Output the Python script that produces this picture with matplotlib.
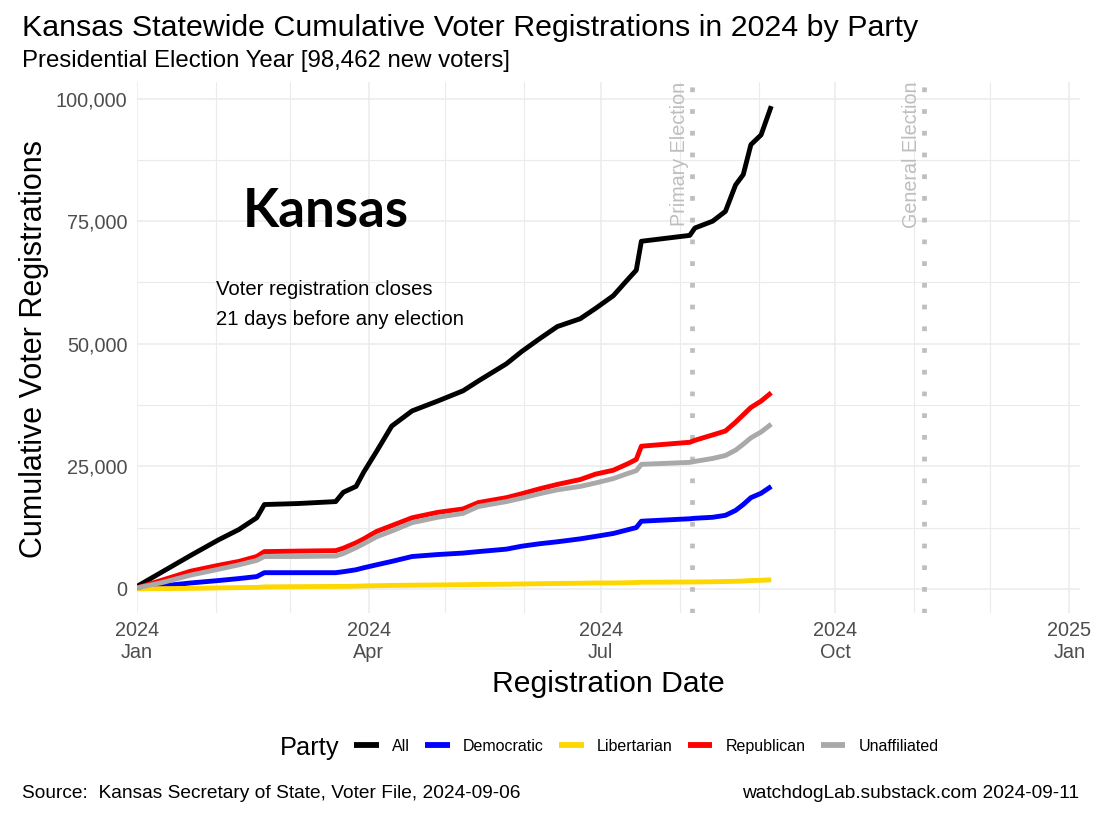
import numpy as np
import matplotlib
matplotlib.use("Agg")
import matplotlib.pyplot as plt
import matplotlib.dates as mdates
from matplotlib.lines import Line2D
from matplotlib.ticker import FuncFormatter
from matplotlib.transforms import blended_transform_factory

# ---------------- data ----------------
dates = [
    "2024-01-01", "2024-01-11", "2024-01-22", "2024-02-02", "2024-02-10",
    "2024-02-17", "2024-02-20", "2024-03-04", "2024-03-19", "2024-03-22",
    "2024-03-27", "2024-03-30", "2024-04-04", "2024-04-10", "2024-04-18",
    "2024-04-28", "2024-05-08", "2024-05-14", "2024-05-25", "2024-05-31",
    "2024-06-07", "2024-06-14", "2024-06-23", "2024-06-29", "2024-07-06",
    "2024-07-12", "2024-07-15", "2024-07-17", "2024-08-05", "2024-08-07",
    "2024-08-14", "2024-08-19", "2024-08-23", "2024-08-26", "2024-08-29",
    "2024-09-02", "2024-09-06",
]

all_reg = [
    500, 3500, 6800, 10000, 12100, 14500, 17200, 17400, 17800, 19700,
    20900, 23800, 28000, 33200, 36300, 38300, 40400, 42400, 45900, 48400,
    51000, 53500, 55100, 57200, 59800, 63300, 65000, 70900, 72100, 73600,
    75000, 77000, 82400, 84500, 90600, 92600, 98462,
]
republican = [
    200, 1800, 3600, 4800, 5600, 6600, 7600, 7700, 7800, 8300,
    9400, 10200, 11700, 12900, 14500, 15600, 16300, 17600, 18600, 19400,
    20400, 21300, 22300, 23400, 24200, 25600, 26400, 29100, 29900, 30300,
    31400, 32200, 34000, 35500, 37000, 38300, 40000,
]
unaffiliated = [
    200, 1300, 2800, 4000, 4900, 5800, 6600, 6600, 6700, 7200,
    8400, 9200, 10600, 11800, 13500, 14600, 15400, 16800, 17800, 18500,
    19400, 20200, 20900, 21600, 22500, 23600, 24100, 25400, 25800, 26000,
    26600, 27200, 28300, 29500, 30800, 32000, 33600,
]
democratic = [
    100, 600, 1200, 1700, 2100, 2500, 3300, 3300, 3300, 3500,
    3900, 4300, 4900, 5600, 6600, 7000, 7300, 7600, 8100, 8700,
    9200, 9600, 10200, 10700, 11300, 12100, 12500, 13800, 14300, 14400,
    14600, 15000, 16000, 17200, 18600, 19500, 20900,
]
libertarian = [
    0, 50, 100, 200, 250, 300, 400, 450, 500, 500,
    550, 600, 650, 700, 750, 800, 850, 900, 950, 1000,
    1050, 1100, 1150, 1200, 1200, 1250, 1300, 1350, 1400, 1400,
    1450, 1500, 1550, 1600, 1700, 1750, 1850,
]

party_names = ["All", "Democratic", "Libertarian", "Republican", "Unaffiliated"]
party_colors = ["#000000", "#0000FF", "#FFD700", "#FF0000", "#A9A9A9"]

election_dates = ["2024-08-06", "2024-11-05"]
election_labels = ["Primary Election", "General Election"]

x_tick_dates = ["2024-01-01", "2024-04-01", "2024-07-01", "2024-10-01", "2025-01-01"]
x_tick_labels = ["2024\nJan", "2024\nApr", "2024\nJul", "2024\nOct", "2025\nJan"]
y_ticks = [0, 25000, 50000, 75000, 100000]

# ---------------- figure ----------------
plt.rcParams["font.family"] = ["Liberation Sans", "DejaVu Sans"]
W, H = 1098, 813
fig = plt.figure(figsize=(W / 100, H / 100), dpi=100)
ax = fig.add_axes([137 / W, 1 - 613 / H, (1080 - 137) / W, (613 - 82) / H])

d = np.array(dates, dtype="datetime64[D]")
series = [all_reg, democratic, libertarian, republican, unaffiliated]

grid_c = "#EBEBEB"
ax.set_axisbelow(True)
minor_months = np.arange(np.datetime64("2024-01"), np.datetime64("2025-02"),
                         dtype="datetime64[M]").astype("datetime64[D]")
ax.set_xticks(mdates.date2num(minor_months), minor=True)
ax.set_xticks(mdates.date2num(np.array(x_tick_dates, dtype="datetime64[D]")))
ax.set_xticklabels(x_tick_labels)
ax.set_yticks(y_ticks)
ax.set_yticks([12500, 37500, 62500, 87500], minor=True)
ax.yaxis.set_major_formatter(FuncFormatter(lambda v, p: f"{int(v):,}"))
ax.grid(which="major", color=grid_c, linewidth=1.1)
ax.grid(which="minor", color=grid_c, linewidth=0.8)
ax.tick_params(which="both", length=0)
ax.tick_params(axis="y", labelsize=14.3, labelcolor="#4D4D4D", pad=7)
ax.tick_params(axis="x", labelsize=14.3, labelcolor="#4D4D4D", pad=6)
for lab in ax.get_xticklabels():
    lab.set_linespacing(1.2)
for s in ax.spines.values():
    s.set_visible(False)

# election lines
trans = blended_transform_factory(ax.transData, ax.transAxes)
for ed, el in zip(election_dates, election_labels):
    xd = mdates.date2num(np.datetime64(ed))
    ax.axvline(xd, color="#BEBEBE", linewidth=3.4, linestyle=(0, (1, 3.6)),
               dash_capstyle="butt", zorder=2)
    ax.text(xd - 1.2, 1.0, el, rotation=90, ha="right", va="top",
            color="#BEBEBE", fontsize=14.2, transform=trans)

# party lines
for vals, name, col in zip(series, party_names, party_colors):
    ax.plot(mdates.date2num(d), vals, color=col, linewidth=3.5,
            solid_joinstyle="round", solid_capstyle="butt", zorder=3)

ax.set_xlim(mdates.date2num(np.datetime64("2024-01-01")),
            mdates.date2num(np.datetime64("2025-01-01")) + 4.2)
ax.set_ylim(-4923, 103385)

# annotations inside the panel
ax.text((326 - 137) / 943, (613 - 227) / 531, "Kansas", transform=ax.transAxes,
        ha="center", va="baseline", fontsize=38, fontweight="bold",
        family=["Lato", "DejaVu Sans"])
ax.text((216 - 137) / 943, (613 - 295) / 531, "Voter registration closes",
        transform=ax.transAxes, ha="left", va="baseline", fontsize=14.6)
ax.text((216 - 137) / 943, (613 - 325) / 531, "21 days before any election",
        transform=ax.transAxes, ha="left", va="baseline", fontsize=14.6)

# titles
fig.text(22 / W, 1 - 36 / H, "Kansas Statewide Cumulative Voter Registrations in 2024 by Party",
         ha="left", va="baseline", fontsize=21.9)
fig.text(22 / W, 1 - 67 / H, "Presidential Election Year [98,462 new voters]",
         ha="left", va="baseline", fontsize=17.3)
fig.text(608 / W, 1 - 692 / H, "Registration Date", ha="center", va="baseline", fontsize=21.7)
fig.text(34 / W, 1 - 349 / H, "Cumulative Voter Registrations", ha="center", va="center",
         rotation=90, fontsize=22)

# legend
fig.text(280 / W, 1 - 755 / H, "Party", ha="left", va="baseline", fontsize=18.3)
handles = [Line2D([0], [0], color=c, linewidth=4.2, solid_capstyle="butt") for c in party_colors]
fig.legend(handles, party_names, loc="center left", bbox_to_anchor=(354 / W, 1 - 746 / H),
           ncol=5, frameon=False, fontsize=11.5, handlelength=1.55, handletextpad=0.85,
           columnspacing=0.92, borderpad=0, borderaxespad=0)

# captions
fig.text(22 / W, 1 - 798 / H, "Source:  Kansas Secretary of State, Voter File, 2024-09-06",
         ha="left", va="baseline", fontsize=13.8)
fig.text(1079 / W, 1 - 798 / H, "watchdogLab.substack.com 2024-09-11",
         ha="right", va="baseline", fontsize=13.8)

fig.savefig("out.png", dpi=100, facecolor="white")
